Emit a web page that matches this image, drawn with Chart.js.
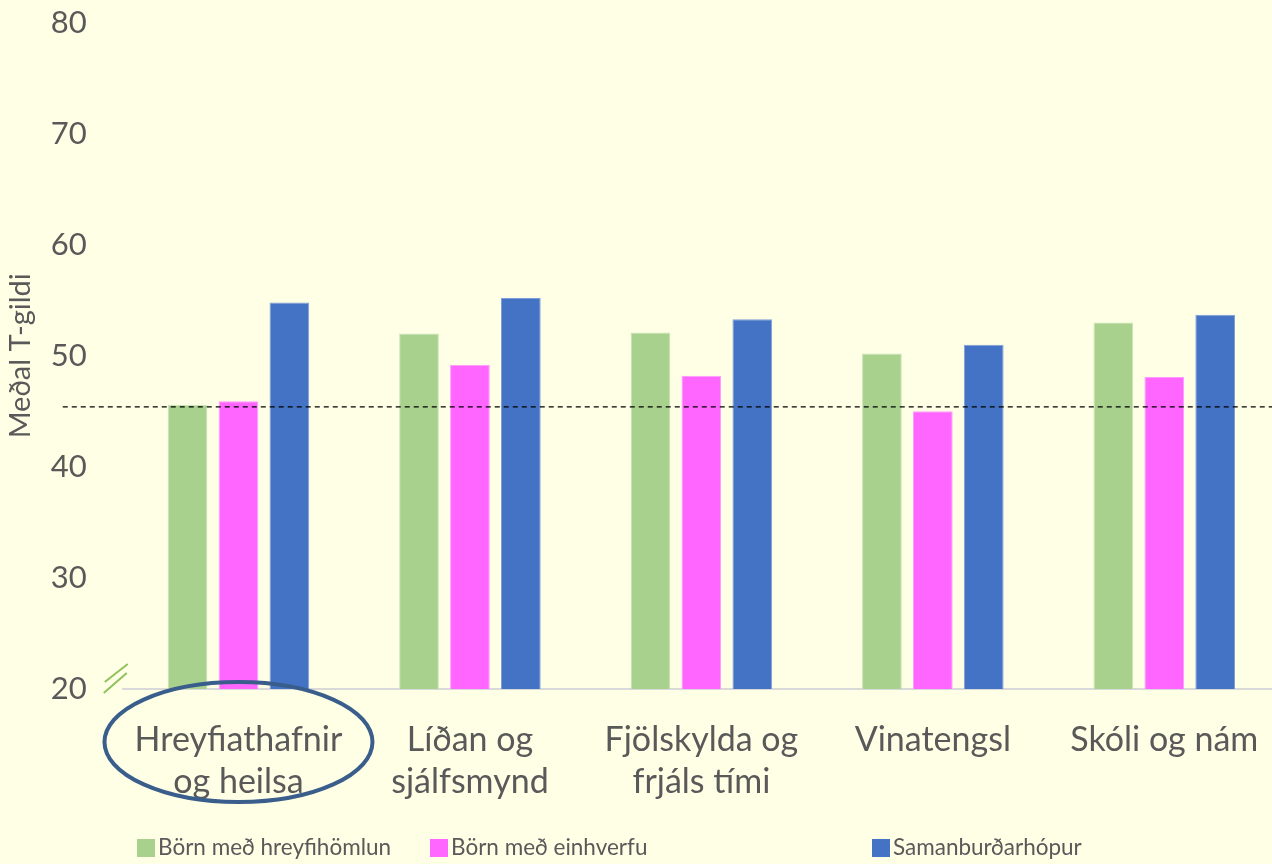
<!DOCTYPE html>
<html>
<head>
<meta charset="utf-8">
<script src="https://cdn.jsdelivr.net/npm/chart.js@4.4.1/dist/chart.umd.min.js"></script>
<style>
    html, body { margin: 0; padding: 0; background: #FFFFE6; overflow: hidden; }
    #wrap { position: relative; width: 1280px; height: 864px; }
</style>
</head>
<body>
<div id="wrap"><canvas id="chart"></canvas></div>
<script>
const categories = [["Hreyfiathafnir", "og heilsa"], ["Líðan og", "sjálfsmynd"], ["Fjölskylda og", "frjáls tími"], "Vinatengsl", "Skóli og nám"];
const seriesNames = ["Börn með hreyfihömlun", "Börn með einhverfu", "Samanburðarhópur"];
const hreyfihomlun = [45.6, 52.0, 52.1, 50.2, 53.0];
const einhverfa = [45.9, 49.2, 48.2, 45.0, 48.1];
const samanburdur = [54.8, 55.2, 53.3, 51.0, 53.7];
const yTicks = [20, 30, 40, 50, 60, 70, 80];
const referenceLine = 45.4;

const textColor = '#595959';
const seriesColors = ['#A9D18E', '#FF66FF', '#4472C4'];
const seriesBorders = ['#C9E3B8', '#FF99FF', '#7F9FD8'];

const background = {
    id: 'background',
    beforeDraw(chart) {
        const ctx = chart.ctx;
        ctx.save();
        ctx.fillStyle = '#FFFFE6';
        ctx.fillRect(0, 0, chart.width, chart.height);
        ctx.restore();
    }
};

// dashed reference line, axis break marks and circle round the first label
const extras = {
    id: 'extras',
    afterDatasetsDraw(chart) {
        const ctx = chart.ctx;
        const area = chart.chartArea;
        const y = chart.scales.y.getPixelForValue(referenceLine);
        ctx.save();
        ctx.strokeStyle = '#000000';
        ctx.lineWidth = 1.3;
        ctx.setLineDash([5, 4]);
        ctx.beginPath();
        ctx.moveTo(area.left - 60, y);
        ctx.lineTo(area.right, y);
        ctx.stroke();
        ctx.setLineDash([]);

        ctx.strokeStyle = '#92C05B';
        ctx.lineWidth = 2;
        ctx.beginPath();
        ctx.moveTo(area.left - 18, area.bottom - 7);
        ctx.lineTo(area.left + 5, area.bottom - 25);
        ctx.moveTo(area.left - 19, area.bottom + 4);
        ctx.lineTo(area.left + 4, area.bottom - 16);
        ctx.stroke();

        const cx = chart.scales.x.getPixelForValue(0);
        ctx.strokeStyle = '#3A5E8C';
        ctx.lineWidth = 4;
        ctx.beginPath();
        ctx.ellipse(cx, area.bottom + 53, 134, 60, 0, 0, Math.PI * 2);
        ctx.stroke();
        ctx.restore();
    }
};

const legendX = [137, 430, 872];
const bottomLegend = {
    id: 'bottomLegend',
    afterDraw(chart) {
        const ctx = chart.ctx;
        const y = 848;
        ctx.save();
        ctx.font = '22.5px Lato';
        ctx.textBaseline = 'middle';
        chart.data.datasets.forEach((ds, i) => {
            ctx.fillStyle = ds.backgroundColor;
            ctx.fillRect(legendX[i], y - 9, 18, 18);
            ctx.fillStyle = textColor;
            ctx.fillText(ds.label, legendX[i] + 21, y);
        });
        ctx.restore();
    }
};

new Chart(document.getElementById('chart'), {
    type: 'bar',
    data: {
        labels: categories,
        datasets: [hreyfihomlun, einhverfa, samanburdur].map((d, i) => ({
            label: seriesNames[i],
            data: d,
            backgroundColor: seriesColors[i],
            borderColor: seriesBorders[i],
            borderWidth: 1,
            barPercentage: 0.78,
            categoryPercentage: 0.66
        }))
    },
    options: {
        responsive: true,
        maintainAspectRatio: false,
        animation: false,
        layout: { padding: { top: 0, bottom: 57, left: 3, right: 0 } },
        plugins: {
            legend: { display: false },
            tooltip: { enabled: false }
        },
        scales: {
            x: {
                grid: { display: false, drawTicks: true, tickLength: 26 },
                border: { display: true, color: '#D9D9D9', width: 2 },
                ticks: {
                    color: textColor,
                    font: { family: 'Lato', size: 34, lineHeight: 1.235 },
                    padding: 4,
                    maxRotation: 0,
                    autoSkip: false
                }
            },
            y: {
                min: 20,
                max: 80,
                afterBuildTicks(axis) { axis.ticks = yTicks.map(v => ({ value: v })); },
                grid: { display: false, drawTicks: true, tickLength: 32 },
                border: { display: false },
                ticks: {
                    color: textColor,
                    font: { family: 'Lato', size: 31 },
                    padding: 4
                },
                title: {
                    display: true,
                    text: 'Meðal T-gildi',
                    color: textColor,
                    font: { family: 'Lato', size: 29 },
                    padding: { top: 0, bottom: 9 }
                }
            }
        }
    },
    plugins: [background, extras, bottomLegend]
});
</script>
</body>
</html>
